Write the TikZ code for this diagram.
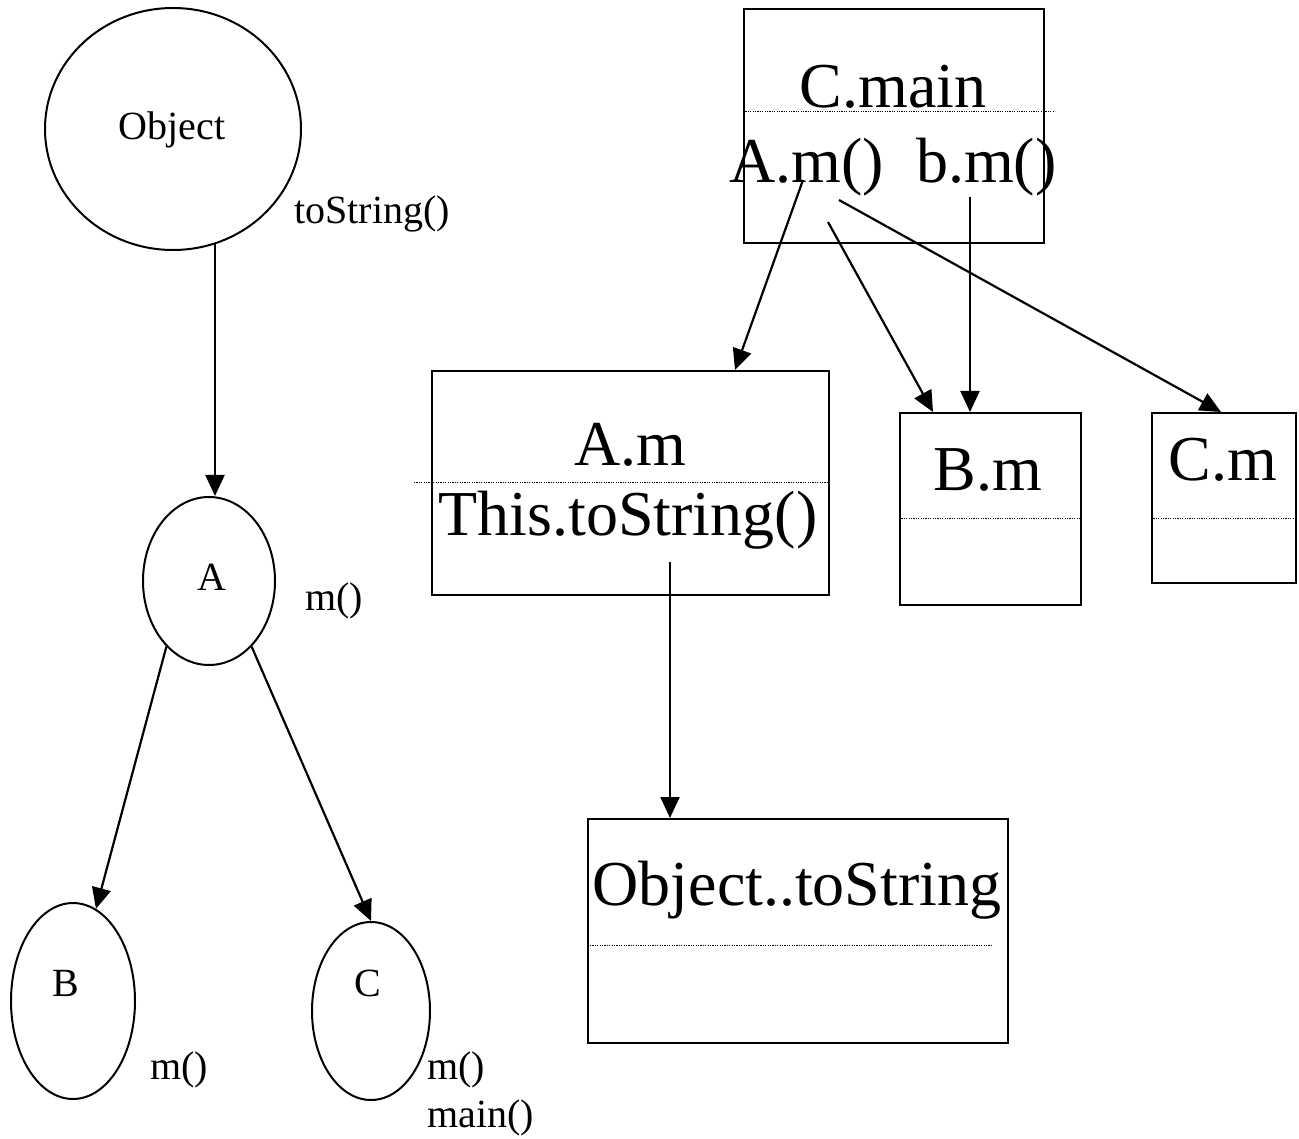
\documentclass[tikz,border=0pt]{standalone}
\usepackage{fontspec}
\setmainfont{Liberation Serif}
\usepackage{tikz}
\usetikzlibrary{arrows.meta,shapes.geometric}

\tikzset{
  >={Triangle[length=21pt,width=19pt]},
  cls/.style={draw, ellipse, line width=2pt, inner sep=0pt},
  frame/.style={draw, rectangle, line width=2pt, anchor=north west, inner sep=0pt},
  sep/.style={line width=1pt, dash pattern=on 1.2pt off 1.2pt},
  small/.style={inner sep=0pt, font=\fontsize{40}{46}\selectfont},
  big/.style={inner sep=0pt, font=\fontsize{64}{72}\selectfont},
  call/.style={->, line width=2.2pt}
}

\begin{document}
\begin{tikzpicture}[x=1pt,y=-1pt]
  \useasboundingbox (0,0) rectangle (1299,1139);

  % Class tree
  \node[cls, minimum width=256pt, minimum height=242pt] (obj) at (173,129) {};
  \node[small] (objname) at (172,130) {Object};
  \node[small] (objm) at (372,214) {toString()};

  \node[cls, minimum width=132pt, minimum height=168pt] (A) at (209,581) {};
  \node[small] (Aname) at (212,577) {A};
  \node[small] (Am) at (334,601) {m()};

  \node[cls, minimum width=124pt, minimum height=196pt] (B) at (73,1001) {};
  \node[small] (Bname) at (66,983) {B};
  \node[small] (Bm) at (179,1070) {m()};

  \node[cls, minimum width=118pt, minimum height=178pt] (C) at (371,1011) {};
  \node[small] (Cname) at (368,983) {C};
  \node[small, anchor=west] (Cm) at (427,1070) {m()};
  \node[small, anchor=west] (Cmain) at (427,1118) {main()};

  % Inheritance
  \draw[call] (obj.290) -- (obj.290 |- A.north);
  \draw[call] (A.237) -- (B.76);
  \draw[call] (A.303) -- (C.north);

  % Frames
  \node[frame, minimum width=300pt, minimum height=234pt] (fmain) at (743,8) {};
  \draw[sep] (743,112) -- (1055,112);
  \node[big] (fmaintitle) at (893,87) {C.main};
  \node[big] (fmaincalls) at (893,167) {A.m()\ \ b.m()};

  \node[frame, minimum width=397pt, minimum height=224pt] (fA) at (431,370) {};
  \draw[sep] (414,482) -- (830,482);
  \node[big] (fAtitle) at (630,445) {A.m};
  \node[big] (fAcall) at (628,520) {This.toString()};

  \node[frame, minimum width=181pt, minimum height=192pt] (fB) at (899,412) {};
  \draw[sep] (899,518) -- (1080,518);
  \node[big] (fBtitle) at (988,470) {B.m};

  \node[frame, minimum width=144pt, minimum height=170pt] (fC) at (1151,412) {};
  \draw[sep] (1151,518) -- (1295,518);
  \node[big] (fCtitle) at (1223,460) {C.m};

  \node[frame, minimum width=420pt, minimum height=224pt] (fobj) at (587,818) {};
  \draw[sep] (590,945) -- (992,945);
  \node[big] (fobjtitle) at (797,890) {Object..toString};

  % Calls
  \coordinate (callA) at (803,180);
  \coordinate (callB) at (828,222);
  \coordinate (callC) at (839,200);
  \coordinate (callb) at (970,197);
  \coordinate (callObj) at (670,562);
  \draw[call] (callA) -- (fA.north west -| 735,0);
  \draw[call] (callB) -- (fB.north west -| 933,0);
  \draw[call] (callb) -- (fB.north west -| 970,0);
  \draw[call] (callC) -- (fC.north west -| 1221,0);
  \draw[call] (callObj) -- (callObj |- fobj.north);

\end{tikzpicture}
\end{document}
